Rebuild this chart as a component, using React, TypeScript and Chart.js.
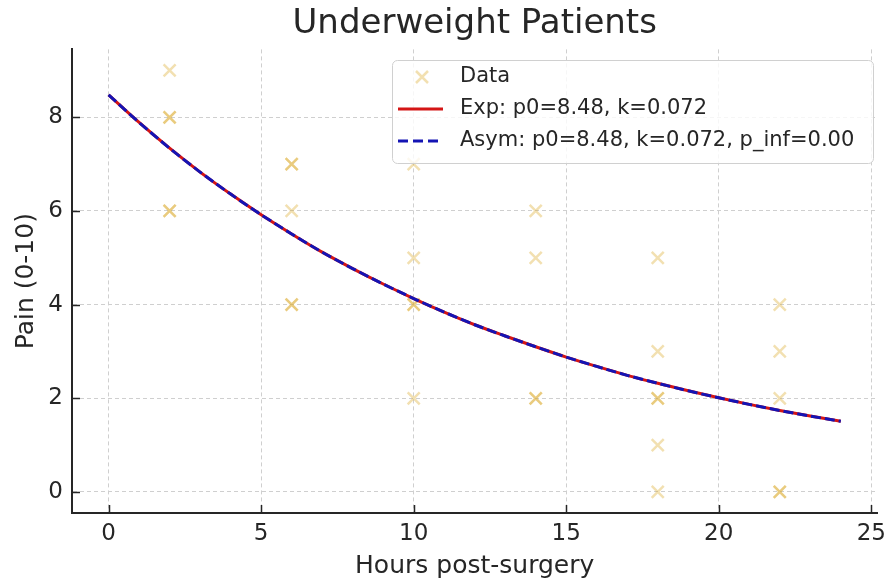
import React, { useEffect, useRef } from 'react';
import { Chart, registerables } from 'chart.js';

Chart.register(...registerables);

const FONT = '"DejaVu Sans", "Liberation Sans", sans-serif';
const TEXT = '#262626';

const TITLE = 'Underweight Patients';
const X_LABEL = 'Hours post-surgery';
const Y_LABEL = 'Pain (0-10)';

const xTicks = [0, 5, 10, 15, 20, 25];
const yTicks = [0, 2, 4, 6, 8];

// observed pain scores (duplicates = overlapping markers)
const dataHours = [2, 2, 2, 2, 2, 6, 6, 6, 6, 6, 10, 10, 10, 10, 10, 14, 14, 14, 14, 18, 18, 18, 18, 18, 18, 22, 22, 22, 22, 22];
const dataPain = [9, 8, 8, 6, 6, 7, 7, 6, 4, 4, 7, 5, 4, 4, 2, 6, 5, 2, 2, 5, 3, 2, 2, 1, 0, 4, 3, 2, 0, 0];

// fitted curves
const fitHours = [0, 1, 2, 3, 4, 5, 6, 7, 8, 9, 10, 11, 12, 13, 14, 15, 16, 17, 18, 19, 20, 21, 22, 23, 24];
const expFit = [8.48, 7.89, 7.34, 6.83, 6.36, 5.92, 5.51, 5.12, 4.77, 4.44, 4.13, 3.84, 3.57, 3.33, 3.1, 2.88, 2.68, 2.49, 2.32, 2.16, 2.01, 1.87, 1.74, 1.62, 1.51];
const asymFit = [8.48, 7.89, 7.34, 6.83, 6.36, 5.92, 5.51, 5.12, 4.77, 4.44, 4.13, 3.84, 3.57, 3.33, 3.1, 2.88, 2.68, 2.49, 2.32, 2.16, 2.01, 1.87, 1.74, 1.62, 1.51];

const legendLabels = ['Data', 'Exp: p0=8.48, k=0.072', 'Asym: p0=8.48, k=0.072, p_inf=0.00'];

const MARKER = 'rgba(218,165,32,0.35)';
const RED = '#d41515';
const BLUE = '#1414b4';

const overlay = {
  id: 'overlay',
  afterDraw(chart: any) {
    const { ctx, chartArea, scales } = chart;
    const xs = scales.x;
    const ys = scales.y;
    ctx.save();
    // inward tick marks
    ctx.strokeStyle = TEXT;
    ctx.lineWidth = 1.5;
    ctx.setLineDash([]);
    ctx.beginPath();
    xTicks.forEach((v) => {
      const px = Math.round(xs.getPixelForValue(v)) + 0.5;
      ctx.moveTo(px, chartArea.bottom);
      ctx.lineTo(px, chartArea.bottom - 8);
    });
    yTicks.forEach((v) => {
      const py = Math.round(ys.getPixelForValue(v)) + 0.5;
      ctx.moveTo(chartArea.left, py);
      ctx.lineTo(chartArea.left + 8, py);
    });
    ctx.stroke();

    // title centred over the axes
    ctx.fillStyle = TEXT;
    ctx.font = `34px ${FONT}`;
    ctx.textAlign = 'center';
    ctx.textBaseline = 'middle';
    ctx.fillText(TITLE, (chartArea.left + chartArea.right) / 2, 24);

    // legend box
    const bx = 392, by = 60, bw = 481, bh = 103;
    ctx.beginPath();
    ctx.roundRect(bx + 0.5, by + 0.5, bw, bh, 5);
    ctx.fillStyle = 'rgba(255,255,255,0.8)';
    ctx.fill();
    ctx.strokeStyle = '#d0d0d0';
    ctx.lineWidth = 1;
    ctx.stroke();

    const rows = [77, 109, 141];
    // data marker
    ctx.strokeStyle = MARKER;
    ctx.lineWidth = 2.5;
    ctx.beginPath();
    ctx.moveTo(422 - 6, rows[0] - 6);
    ctx.lineTo(422 + 6, rows[0] + 6);
    ctx.moveTo(422 - 6, rows[0] + 6);
    ctx.lineTo(422 + 6, rows[0] - 6);
    ctx.stroke();
    // exp line
    ctx.strokeStyle = RED;
    ctx.lineWidth = 3;
    ctx.beginPath();
    ctx.moveTo(398, rows[1]);
    ctx.lineTo(443, rows[1]);
    ctx.stroke();
    // asym dashed
    ctx.strokeStyle = BLUE;
    ctx.setLineDash([10, 5]);
    ctx.beginPath();
    ctx.moveTo(398, rows[2]);
    ctx.lineTo(443, rows[2]);
    ctx.stroke();
    ctx.setLineDash([]);

    ctx.fillStyle = TEXT;
    ctx.font = `21px ${FONT}`;
    ctx.textAlign = 'left';
    ctx.textBaseline = 'middle';
    legendLabels.forEach((t, i) => ctx.fillText(t, 460, rows[i]));
    ctx.restore();
  },
};

export default function App() {
  const ref = useRef<HTMLCanvasElement | null>(null);

  useEffect(() => {
    if (!ref.current) return;
    const chart = new Chart(ref.current, {
      type: 'scatter',
      data: {
        datasets: [
          {
            label: legendLabels[2],
            data: fitHours.map((h, i) => ({ x: h, y: asymFit[i] })),
            showLine: true,
            borderColor: BLUE,
            borderWidth: 3,
            borderDash: [10, 4],
            pointRadius: 0,
            cubicInterpolationMode: 'monotone',
            order: 0,
          } as any,
          {
            label: legendLabels[1],
            data: fitHours.map((h, i) => ({ x: h, y: expFit[i] })),
            showLine: true,
            borderColor: RED,
            borderWidth: 3,
            pointRadius: 0,
            cubicInterpolationMode: 'monotone',
            order: 1,
          } as any,
          {
            label: legendLabels[0],
            data: dataHours.map((h, i) => ({ x: h, y: dataPain[i] })),
            pointStyle: 'crossRot',
            pointRadius: 8.5,
            pointBorderWidth: 2.5,
            borderColor: MARKER,
            backgroundColor: MARKER,
            order: 2,
          } as any,
        ],
      },
      options: {
        responsive: false,
        animation: false,
        devicePixelRatio: 1,
        layout: { padding: { top: 49.4, right: 10, left: 0, bottom: 0 } },
        plugins: {
          legend: { display: false },
          tooltip: { enabled: false },
          title: { display: false },
        },
        scales: {
          x: {
            type: 'linear',
            min: -1.2,
            max: 25.2,
            afterBuildTicks: (s: any) => {
              s.ticks = xTicks.map((v) => ({ value: v }));
            },
            afterFit: (s: any) => {
              s.height = 69;
            },
            ticks: {
              font: { family: FONT, size: 23 },
              color: TEXT,
              padding: 7,
              maxRotation: 0,
              autoSkip: false,
            },
            grid: { color: '#cfcfcf', lineWidth: 1, drawTicks: false },
            border: { display: true, color: TEXT, width: 2, dash: [4, 3] },
            title: {
              display: true,
              text: X_LABEL,
              color: TEXT,
              font: { family: FONT, size: 25 },
              padding: { top: 0, bottom: 1 },
            },
          },
          y: {
            type: 'linear',
            min: -0.45,
            max: 9.45,
            afterBuildTicks: (s: any) => {
              s.ticks = yTicks.map((v) => ({ value: v }));
            },
            afterFit: (s: any) => {
              s.width = 72;
            },
            ticks: {
              font: { family: FONT, size: 23 },
              color: TEXT,
              padding: 9,
              autoSkip: false,
            },
            grid: { color: '#cfcfcf', lineWidth: 1, drawTicks: false },
            border: { display: true, color: TEXT, width: 2, dash: [4, 3] },
            title: {
              display: true,
              text: Y_LABEL,
              color: TEXT,
              font: { family: FONT, size: 25 },
              padding: { top: 11, bottom: 0 },
            },
          },
        },
      },
      plugins: [overlay],
    });
    return () => chart.destroy();
  }, []);

  return (
    <div style={{ position: 'fixed', left: 0, top: 0, width: 893, height: 582, background: '#fff' }}>
      <canvas ref={ref} width={893} height={582} />
    </div>
  );
}
